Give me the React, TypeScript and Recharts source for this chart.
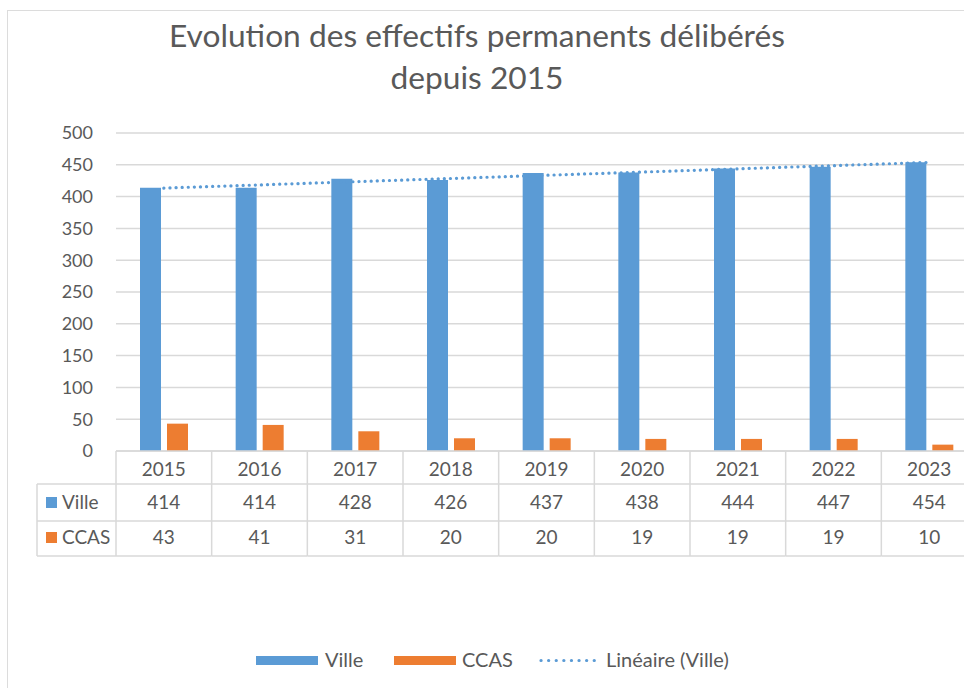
import React from 'react';
import { ComposedChart, Bar, Line, XAxis, YAxis, CartesianGrid } from 'recharts';

const years = ['2015', '2016', '2017', '2018', '2019', '2020', '2021', '2022', '2023'];
const ville = [414, 414, 428, 426, 437, 438, 444, 447, 454];
const ccas = [43, 41, 31, 20, 20, 19, 19, 19, 10];
const trendVille = [413.4, 418.4, 423.5, 428.5, 433.6, 438.6, 443.7, 448.7, 453.8];
const yTicks = [0, 50, 100, 150, 200, 250, 300, 350, 400, 450, 500];
const seriesNames = ['Ville', 'CCAS', 'Linéaire (Ville)'];
const titleLines = ['Evolution des effectifs permanents délibérés', 'depuis 2015'];

const BLUE = '#5B9BD5';
const ORANGE = '#ED7D31';
const GRID = '#d9d9d9';
const TEXT = '#595959';
const FONT = 'Lato, "Open Sans", sans-serif';

const data = years.map((y, i) => ({ year: y, ville: ville[i], ccas: ccas[i], trend: trendVille[i] }));

const CHART_W = 990;
const CHART_H = 688;
const MARGIN = { top: 133, right: 13, left: 56, bottom: 0 };
const Y_W = 60;
const PLOT_W = CHART_W - MARGIN.left - MARGIN.right - Y_W;

const TableTick = (props: any) => {
  const { x, y, payload, index } = props;
  const half = payload && payload.offset > 0 ? payload.offset : PLOT_W / years.length / 2;
  const i = index;
  const left = x - half;
  const right = x + half;
  const r1 = y + 33;
  const r2 = y + 70;
  const r3 = y + 105;
  const lineProps = { stroke: GRID, strokeWidth: 1.5 };
  const txt = { fontFamily: FONT, fontSize: 19, fill: TEXT, textAnchor: 'middle' as const };
  return (
    <g>
      <line x1={left} x2={left} y1={y} y2={r3} {...lineProps} />
      {i === years.length - 1 && <line x1={right} x2={right} y1={y} y2={r3} {...lineProps} />}
      <line x1={left} x2={right} y1={r1} y2={r1} {...lineProps} />
      <line x1={left} x2={right} y1={r2} y2={r2} {...lineProps} />
      <line x1={left} x2={right} y1={r3} y2={r3} {...lineProps} />
      <text x={x} y={y + 25} {...txt}>{payload.value}</text>
      <text x={x} y={y + 58} {...txt}>{ville[i]}</text>
      <text x={x} y={y + 93} {...txt}>{ccas[i]}</text>
      {i === 0 && (
        <g>
          <line x1={37} x2={left} y1={r1} y2={r1} {...lineProps} />
          <line x1={37} x2={left} y1={r2} y2={r2} {...lineProps} />
          <line x1={37} x2={left} y1={r3} y2={r3} {...lineProps} />
          <line x1={37} x2={37} y1={r1} y2={r3} {...lineProps} />
          <rect x={46} y={y + 46} width={11} height={11} fill={BLUE} />
          <rect x={46} y={y + 81} width={11} height={11} fill={ORANGE} />
          <text x={62} y={y + 58} fontFamily={FONT} fontSize={19} fill={TEXT}>{seriesNames[0]}</text>
          <text x={62} y={y + 93} fontFamily={FONT} fontSize={19} fill={TEXT}>{seriesNames[1]}</text>
        </g>
      )}
    </g>
  );
};

export default function App() {
  return (
    <div style={{ position: 'fixed', left: 0, top: 0, width: 964, height: 688, overflow: 'hidden', background: '#fff' }}>
      <div style={{ position: 'absolute', left: 7, top: 10, width: 1100, height: 1000, borderLeft: '1.5px solid #dcdcdc', borderTop: '1.5px solid #dcdcdc' }} />
      <div style={{ position: 'absolute', left: 0, top: 0 }}>
        <ComposedChart width={CHART_W} height={CHART_H} data={data} margin={MARGIN} barGap={6} barCategoryGap={24}>
          <CartesianGrid vertical={false} stroke={GRID} strokeWidth={1.5} />
          <XAxis
            dataKey="year"
            height={CHART_H - 451}
            interval={0}
            tickLine={false}
            tickSize={0}
            tickMargin={0}
            axisLine={{ stroke: GRID, strokeWidth: 1.5 }}
            tick={(p: any) => <TableTick {...p} />}
          />
          <YAxis
            width={Y_W}
            domain={[0, 500]}
            ticks={yTicks}
            interval={0}
            axisLine={false}
            tickLine={false}
            tickSize={0}
            tickMargin={23}
            tick={{ fontFamily: FONT, fontSize: 18, fill: TEXT }}
          />
          <Bar dataKey="ville" name={seriesNames[0]} fill={BLUE} isAnimationActive={false} />
          <Bar dataKey="ccas" name={seriesNames[1]} fill={ORANGE} isAnimationActive={false} />
          <Line
            dataKey="trend"
            name={seriesNames[2]}
            type="linear"
            stroke={BLUE}
            strokeWidth={3.2}
            strokeDasharray="0.1 6"
            strokeLinecap="round"
            dot={false}
            activeDot={false}
            isAnimationActive={false}
          />
        </ComposedChart>
      </div>
      <svg width={964} height={688} style={{ position: 'absolute', left: 0, top: 0, pointerEvents: 'none' }}>
        <text x={477} y={47} textAnchor="middle" fontFamily={FONT} fontSize={31.7} fill={TEXT}>{titleLines[0]}</text>
        <text x={477} y={89} textAnchor="middle" fontFamily={FONT} fontSize={31.7} fill={TEXT}>{titleLines[1]}</text>
        <rect x={256} y={656} width={62} height={9} fill={BLUE} />
        <text x={325} y={667} fontFamily={FONT} fontSize={20} fill={TEXT}>{seriesNames[0]}</text>
        <rect x={394} y={656} width={62} height={9} fill={ORANGE} />
        <text x={462} y={667} fontFamily={FONT} fontSize={20} fill={TEXT}>{seriesNames[1]}</text>
        <line x1={541} x2={601} y1={660.5} y2={660.5} stroke={BLUE} strokeWidth={3.2} strokeDasharray="0.1 7.5" strokeLinecap="round" />
        <text x={606} y={667} fontFamily={FONT} fontSize={20} fill={TEXT}>{seriesNames[2]}</text>
      </svg>
    </div>
  );
}
